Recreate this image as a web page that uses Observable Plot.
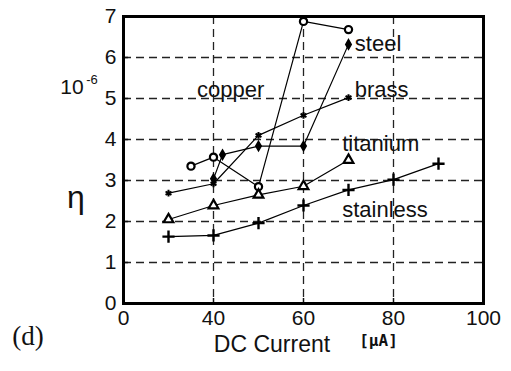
<!DOCTYPE html>
<html>
<head>
<meta charset="utf-8">
<script src="https://cdn.jsdelivr.net/npm/d3@7"></script>
<script src="https://cdn.jsdelivr.net/npm/@observablehq/plot@0.6"></script>
<style>
  html, body { margin: 0; padding: 0; background: #fff; }
  #chart { width: 511px; height: 371px; }
</style>
</head>
<body>
<div id="chart"></div>
<script>
// DC current [µA] and η (×10^-6) for each electrode material
const copperX    = [35, 40, 50, 60, 70];
const copperY    = [3.35, 3.57, 2.85, 6.88, 6.68];
const steelX     = [40, 42, 50, 60, 70];
const steelY     = [3.04, 3.63, 3.84, 3.84, 6.32];
const brassX     = [30, 40, 50, 60, 70];
const brassY     = [2.69, 2.92, 4.10, 4.59, 5.02];
const titaniumX  = [30, 40, 50, 60, 70];
const titaniumY  = [2.05, 2.39, 2.65, 2.86, 3.50];
const stainlessX = [30, 40, 50, 60, 70, 80, 90];
const stainlessY = [1.63, 1.66, 1.96, 2.39, 2.77, 3.02, 3.41];

// series labels and where they sit (data units)
const labelNames = ["copper", "steel", "brass", "titanium", "stainless"];
const labelX     = [43.8, 71.4, 71.4, 68.6, 68.6];
const labelY     = [5.2, 6.34, 5.22, 3.9, 2.29];

// axis ticks
const xTickValues = [20, 40, 60, 80, 100];
const xTickLabels = ["0", "40", "60", "80", "100"];
const yTickValues = [0, 1, 2, 3, 4, 5, 6, 7];

const series = [
  {name: "copper",    xs: copperX,    ys: copperY,    symbol: "circle",   fill: "white", r: 3.6, sw: 2.2},
  {name: "steel",     xs: steelX,     ys: steelY,     symbol: "diamond",  fill: "black", r: 2.9, sw: 1.5},
  {name: "brass",     xs: brassX,     ys: brassY,     symbol: "asterisk", fill: "none",  r: 3.2, sw: 2},
  {name: "titanium",  xs: titaniumX,  ys: titaniumY,  symbol: "triangle", fill: "white", r: 3.6, sw: 2.2},
  {name: "stainless", xs: stainlessX, ys: stainlessY, symbol: "plus",     fill: "none",  r: 4,   sw: 2.4}
];
const rows = series.flatMap(s => s.xs.map((x, i) => ({series: s.name, x, y: s.ys[i]})));
const labels = labelNames.map((t, i) => ({text: t, x: labelX[i], y: labelY[i]}));

const sans = "'Liberation Sans', Arial, Helvetica, sans-serif";
const grid = {stroke: "#222", strokeOpacity: 1, strokeWidth: 1.3, strokeDasharray: "8,5"};

const chart = Plot.plot({
  width: 511,
  height: 371,
  marginLeft: 123,
  marginRight: 28,
  marginTop: 16,
  marginBottom: 68,
  style: {fontFamily: sans, fontSize: "21px", color: "#111", background: "#fff"},
  x: {domain: [20, 100]},
  y: {domain: [0, 7]},
  marks: [
    Plot.gridX(xTickValues.slice(1, -1), grid),
    Plot.gridY(yTickValues.slice(1, -1), grid),
    Plot.axisX({ticks: xTickValues, tickFormat: (d, i) => xTickLabels[i], tickSize: -5, tickPadding: 12, strokeWidth: 1.5, label: null, fontSize: 21}),
    Plot.axisY({ticks: yTickValues, tickFormat: d3.format("d"), tickSize: -5, tickPadding: 12, strokeWidth: 1.5, label: null, fontSize: 21}),
    Plot.line(rows, {x: "x", y: "y", z: "series", stroke: "black", strokeWidth: 1.2}),
    ...series.map(s => Plot.dot(rows.filter(d => d.series === s.name), {
      x: "x", y: "y", symbol: s.symbol, r: s.r, fill: s.fill, stroke: "black", strokeWidth: s.sw
    })),
    Plot.text(labels.filter(d => d.text === "copper"), {x: "x", y: "y", text: "text", textAnchor: "middle", fontSize: 22, fill: "#111"}),
    Plot.text(labels.filter(d => d.text !== "copper"), {x: "x", y: "y", text: "text", textAnchor: "start", fontSize: 22, fill: "#111"}),
    Plot.frame({stroke: "black", strokeWidth: 3}),
    // y-axis symbol and scale factor
    Plot.text(["η"], {frameAnchor: "left", textAnchor: "middle", dx: -47.5, dy: 38, fontSize: 32, fill: "#111"}),
    Plot.text(["10"], {frameAnchor: "top-left", textAnchor: "middle", dx: -51.5, dy: 63, fontSize: 21, fill: "#111"}),
    Plot.text(["-6"], {frameAnchor: "top-left", textAnchor: "middle", dx: -31.5, dy: 58, fontSize: 13, fill: "#111"}),
    // x-axis title and unit
    Plot.text(["DC Current"], {frameAnchor: "bottom", textAnchor: "middle", dx: -31.5, dy: 48, fontSize: 23, fill: "#111"}),
    Plot.text(["[μA]"], {frameAnchor: "bottom", textAnchor: "middle", dx: 75, dy: 42, fontSize: 16, fontWeight: "bold", letterSpacing: "2px", fontFamily: "'DejaVu Sans Mono', monospace", fill: "#111"}),
    // panel tag
    Plot.text(["(d)"], {frameAnchor: "bottom-left", textAnchor: "middle", dx: -95.5, dy: 41, fontSize: 27, fontFamily: "'Liberation Serif', 'Times New Roman', serif", fill: "#111"})
  ]
});
document.getElementById("chart").appendChild(chart);
</script>
</body>
</html>
